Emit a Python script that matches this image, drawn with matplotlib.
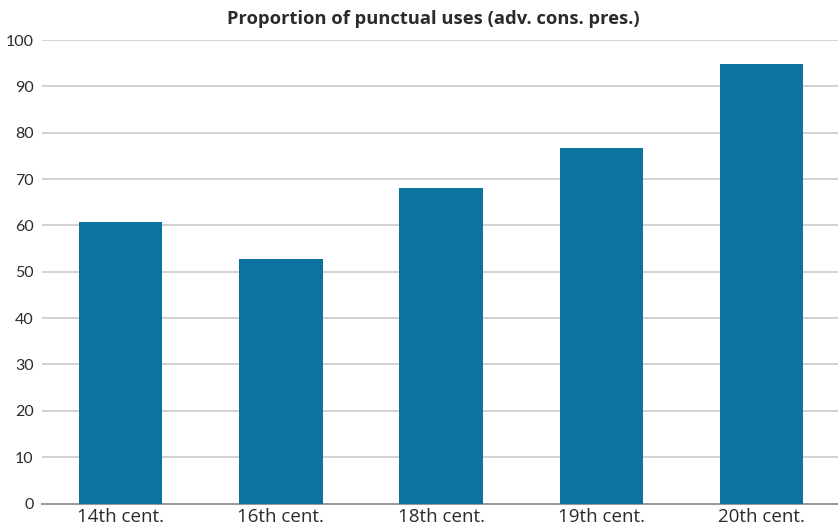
import matplotlib.pyplot as plt

# Share of punctual uses per century
centuries = ["14th cent.", "16th cent.", "18th cent.", "19th cent.", "20th cent."]
proportions = [60.7, 52.7, 68.0, 76.7, 94.8]
y_ticks = [0, 10, 20, 30, 40, 50, 60, 70, 80, 90, 100]

bar_color = "#0c72a0"
text_color = "#2b2b2b"

fig = plt.figure(figsize=(8.38, 5.32), dpi=100)
ax = fig.add_axes([42 / 838, 1 - 503.5 / 532, 796 / 838, 463.5 / 532])

x = range(len(centuries))
ax.bar(x, proportions, width=0.52, color=bar_color, zorder=3)

ax.set_xlim(-0.49, 4.476)
ax.set_ylim(0, 100)
ax.set_yticks(y_ticks)
ax.set_xticks(list(x))
ax.set_xticklabels(centuries, fontsize=13.5, family="Open Sans", color=text_color)
ax.set_yticklabels([str(t) for t in y_ticks], fontsize=11.5, family="Lato", color=text_color)

ax.grid(axis="y", color="#c9c9c9", linewidth=1.2, zorder=0)
ax.tick_params(axis="both", length=0)
ax.tick_params(axis="x", pad=3)
ax.tick_params(axis="y", pad=6)

for side in ["top", "right", "left"]:
    ax.spines[side].set_visible(False)
ax.spines["bottom"].set_color("#9a9a9a")
ax.spines["bottom"].set_linewidth(1.5)

fig.text(0.517, 1 - 19 / 532, "Proportion of punctual uses (adv. cons. pres.)",
         ha="center", va="center", fontsize=13.2, fontweight="bold",
         family="Open Sans", color=text_color)

fig.savefig("out.png", dpi=100)
